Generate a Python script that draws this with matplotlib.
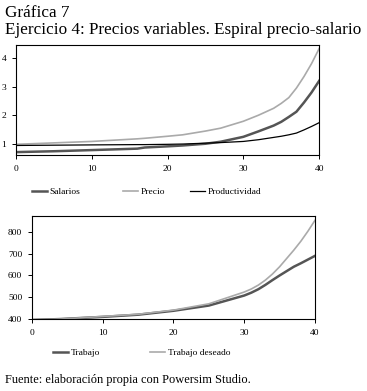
import matplotlib
matplotlib.use("Agg")
import matplotlib.pyplot as plt
from matplotlib.lines import Line2D

plt.rcParams['font.family'] = ['Liberation Serif', 'DejaVu Serif']

# grafico de arriba: precios, salarios, productividad
t_top = [0, 5, 10, 16, 17, 20, 22, 25, 27, 30, 32, 34, 35, 36, 37, 38, 39, 40]
salarios = [0.73, 0.76, 0.80, 0.85, 0.89, 0.93, 0.96, 1.02, 1.09, 1.26, 1.45, 1.65, 1.78, 1.95, 2.13, 2.45, 2.80, 3.20]
precio = [1.00, 1.05, 1.10, 1.19, 1.21, 1.28, 1.33, 1.46, 1.56, 1.80, 2.01, 2.25, 2.42, 2.62, 2.95, 3.35, 3.80, 4.32]
productividad = [0.96, 0.97, 0.98, 0.99, 0.99, 1.00, 1.01, 1.04, 1.06, 1.10, 1.16, 1.24, 1.28, 1.33, 1.39, 1.50, 1.62, 1.75]

# grafico de abajo: trabajo
t_bot = [0, 4, 10, 15, 20, 25, 30, 31, 32, 33, 34, 35, 37, 38, 39, 40]
trabajo = [396, 400, 410, 420, 438, 462, 508, 521, 537, 557, 579, 600, 640, 656, 673, 690]
trabajo_deseado = [396, 400, 412, 422, 441, 470, 524, 538, 556, 579, 607, 640, 716, 757, 803, 853]

OSCURO = '#555555'
CLARO = '#aaaaaa'

fig = plt.figure(figsize=(3.67, 3.91), dpi=100)

fig.text(0.014, 0.967, 'Gráfica 7', fontsize=12.3, va='center', ha='left')
fig.text(0.014, 0.924, 'Ejercicio 4: Precios variables. Espiral precio-salario',
         fontsize=12.3, va='center', ha='left')
fig.text(0.014, 0.028, 'Fuente: elaboración propia con Powersim Studio.',
         fontsize=8.9, va='center', ha='left')


def estilo(ax):
    for s in ax.spines.values():
        s.set_linewidth(0.8)
    ax.tick_params(direction='out', length=3, width=0.7, labelsize=6.8, pad=4)


ax1 = fig.add_axes([0.0436, 0.6036, 0.826, 0.281])
ax1.plot(t_top, salarios, color=OSCURO, lw=1.8)
ax1.plot(t_top, precio, color=CLARO, lw=1.2)
ax1.plot(t_top, productividad, color='black', lw=0.9)
ax1.set_xlim(0, 40)
ax1.set_ylim(0.63, 4.44)
ax1.set_xticks([0, 10, 20, 30, 40])
ax1.set_yticks([1, 2, 3, 4])
estilo(ax1)

ax2 = fig.add_axes([0.0872, 0.184, 0.771, 0.263])
ax2.plot(t_bot, trabajo, color=OSCURO, lw=1.8)
ax2.plot(t_bot, trabajo_deseado, color=CLARO, lw=1.2)
ax2.set_xlim(0, 40)
ax2.set_ylim(400, 872)
ax2.set_xticks([0, 10, 20, 30, 40])
ax2.set_yticks([400, 500, 600, 700, 800])
estilo(ax2)


def leyenda(x, y, color, lw, texto):
    h = Line2D([], [], color=color, lw=lw)
    fig.legend(handles=[h], labels=[texto], loc='center left', bbox_to_anchor=(x, y),
               frameon=False, fontsize=6.8, handlelength=1.6, handletextpad=0.3,
               borderpad=0, borderaxespad=0)


leyenda(0.087, 0.510, OSCURO, 1.8, 'Salarios')
leyenda(0.335, 0.510, CLARO, 1.2, 'Precio')
leyenda(0.518, 0.510, 'black', 0.9, 'Productividad')
leyenda(0.144, 0.097, OSCURO, 1.8, 'Trabajo')
leyenda(0.409, 0.097, CLARO, 1.2, 'Trabajo deseado')

fig.savefig('out.png', dpi=100)
